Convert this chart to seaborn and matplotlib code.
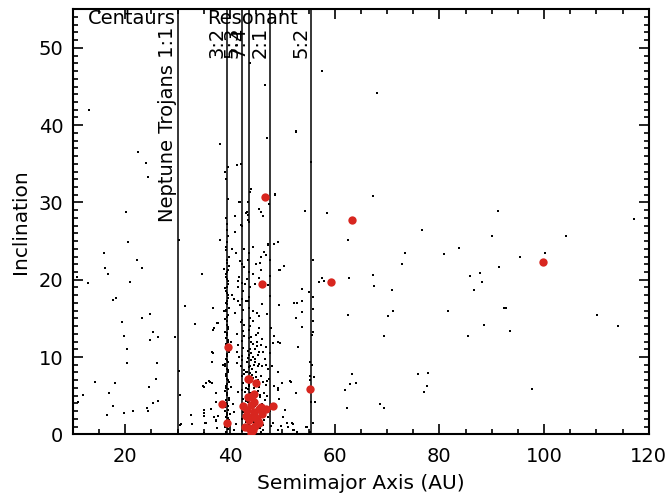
import matplotlib
matplotlib.use("Agg")
import matplotlib.pyplot as plt
import seaborn as sns
import pandas as pd
from matplotlib.ticker import MultipleLocator

# ---------------- data ----------------
# Centaurs region (a < 30 AU)
centaur_a = [13.1, 22.5, 23.9, 24.3, 20.2, 20.5, 16.0, 22.2, 16.2, 23.1, 16.7, 10.8, 12.8, 20.9,
             17.6, 18.3, 24.8, 23.2, 19.3, 25.3, 19.7, 24.7, 26.3, 29.5, 20.3, 20.3, 26.1, 25.8,
             14.3, 18.1, 24.6, 11.9, 16.9, 11.0, 26.3, 17.7, 25.3, 24.1, 21.4, 24.3, 19.8, 16.5]
centaur_i = [42.0, 36.5, 35.1, 33.3, 28.8, 24.9, 23.5, 22.5, 21.5, 21.5, 20.8, 20.4, 19.6, 19.7,
             17.4, 17.6, 15.6, 15.0, 14.5, 13.3, 12.7, 12.2, 12.6, 12.6, 11.1, 9.2, 9.2, 7.2,
             6.8, 6.7, 6.1, 5.1, 5.3, 4.2, 4.3, 3.7, 4.0, 3.4, 3.0, 3.0, 2.8, 2.5]

# Trojans and objects between 30 and 39 AU
inner_a = [30.3, 30.3, 30.4, 30.5, 30.6, 31.4, 32.5, 32.7, 34.6, 33.4, 36.7, 36.7, 37.7, 36.5,
           36.8, 36.5, 35.4, 35.9, 34.8, 36.5, 37.3, 35.0, 35.1, 36.4, 35.1, 37.3, 37.6, 37.0,
           35.2, 37.4, 37.8, 37.3, 36.8, 37.6, 37.0, 38.1, 38.1, 35.0, 35.4, 36.1, 35.0]
inner_i = [25.1, 8.2, 5.1, 1.2, 1.3, 16.6, 2.5, 1.3, 20.7, 14.3, 16.3, 13.5, 14.4, 10.6,
           10.5, 9.3, 6.6, 6.9, 6.2, 6.6, 5.3, 3.2, 2.7, 3.3, 0.2, 1.8, 0.8, 2.3,
           1.4, 1.7, 2.4, 4.2, 16.4, 14.4, 13.8, 25.1, 37.6, 2.4, 1.5, 6.8, 6.1]

# Plutinos (3:2 resonance, ~39.4 AU)
plutino_a = [39.3, 39.6, 39.1, 39.5, 39.8, 39.2, 39.4, 39.7, 39.0, 39.5, 39.3, 39.9, 39.4, 39.1,
             39.6, 39.3, 39.8, 39.5, 39.2, 39.6, 39.4, 39.0, 39.7, 39.3, 39.5, 39.8, 39.2, 39.6,
             39.4, 39.1, 39.7, 39.4, 39.5, 39.2, 39.8, 39.3, 39.6, 39.4, 39.1, 39.7, 39.5, 39.3,
             39.6, 39.4, 39.8, 39.2, 39.5, 39.4, 39.3, 39.6, 39.6, 39.0, 39.3, 40.0, 38.8, 40.2,
             38.7, 40.1, 38.9, 40.3, 38.9, 40.4, 40.5, 40.8, 41.1, 40.7,
             39.5, 39.2, 39.7, 39.4, 39.1, 39.6, 39.3, 39.8, 39.5, 39.2, 39.4, 39.7, 39.3, 39.6,
             39.0, 39.5, 39.4, 39.8, 39.2, 39.6, 39.3, 39.5, 39.7, 39.4, 39.1, 39.6, 39.3, 39.5,
             39.4, 39.7, 39.2, 39.5, 39.6, 39.3, 39.4, 39.8, 39.5, 39.2, 39.6, 39.4]
plutino_i = [0.3, 0.7, 1.0, 1.6, 1.9, 2.3, 2.8, 3.2, 3.5, 3.9, 4.4, 4.7, 5.1, 5.6,
             5.9, 6.3, 6.8, 7.2, 7.5, 8.1, 8.5, 8.9, 9.3, 9.8, 10.4, 10.9, 11.7, 12.2,
             12.8, 13.3, 13.9, 14.6, 15.2, 15.9, 16.4, 17.0, 17.6, 18.3, 18.9, 19.4, 20.1, 20.7,
             21.3, 22.2, 23.0, 23.8, 24.9, 26.5, 28.0, 30.5, 34.6, 33.9, 33.0, 2.6, 4.0, 6.1,
             9.0, 12.0, 16.0, 18.0, 21.4, 24.0, 3.9, 2.9, 1.3, 0.5,
             0.9, 1.4, 2.1, 2.5, 3.0, 3.6, 4.1, 4.5, 5.3, 6.0, 6.5, 7.0, 7.8, 8.3,
             9.1, 9.6, 10.1, 10.6, 11.3, 11.9, 12.5, 13.1, 13.6, 14.2, 14.9, 15.5, 16.1, 16.8,
             17.3, 18.0, 18.6, 19.1, 19.8, 20.4, 21.0, 21.8, 22.6, 24.2, 25.6, 27.2]

# Classical belt and 5:3 / 7:4 / 2:1 resonances (41-52 AU)
belt_a = [41.4, 41.6, 41.3, 41.8, 42.7, 44.3, 45.1, 45.5, 45.9, 46.4, 46.7, 46.9, 44.8, 45.3,
          48.5, 48.3, 41.3, 42.1, 44.3, 41.5, 45.6, 46.5, 48.4, 49.1, 50.0, 49.4, 50.5, 50.2,
          51.0, 52.0, 46.5, 47.2, 48.3, 49.1, 49.7, 46.4,
          42.0, 43.5, 45.5, 46.0, 46.4, 43.1, 43.4, 43.7, 40.9, 42.2, 41.0, 41.1, 42.6, 44.3,
          47.2, 48.5, 49.1, 46.5, 46.9, 45.9, 43.5, 42.0, 42.2, 44.9, 45.8, 42.7, 50.4, 49.4,
          45.9, 44.3, 41.8, 43.2, 41.6, 42.2, 41.5, 42.9, 44.8, 45.6, 47.2, 43.4, 43.1, 40.8,
          46.2, 45.1, 45.5, 47.0, 49.4, 52.3, 52.6, 42.0, 41.5, 41.0, 42.1, 42.7, 45.6,
          43.9, 46.6, 47.1, 52.6, 42.1, 41.3, 44.1, 43.9, 48.6, 55.5, 47.4, 45.6, 46.3, 54.3,
          43.2, 43.5, 42.1, 40.9, 41.8, 48.6,
          42.2, 42.5, 42.3, 42.4, 42.2, 42.5, 42.3, 42.4, 42.2, 42.6, 42.3, 42.4, 42.2, 43.7,
          43.6, 43.8, 43.7, 43.5, 43.9, 43.6, 43.8, 43.7, 43.5, 43.8, 43.6, 43.7, 43.9, 43.6,
          44.1, 44.5, 44.3, 44.8, 45.0, 44.4, 45.2, 44.7, 45.4, 44.2, 45.0, 45.8, 46.1, 45.7,
          46.3, 46.0, 47.0, 46.8, 47.3, 47.6, 47.8, 44.6, 45.3, 43.1, 42.9, 43.0, 44.0, 44.9,
          46.2, 47.6, 47.8, 47.7, 47.6, 47.7, 48.0,
          43.3, 43.6, 43.9, 44.2, 43.4, 43.8, 44.0, 43.5, 43.7, 44.3, 43.2, 43.9, 44.1, 43.6,
          44.5, 44.8, 45.1, 44.4, 44.9, 45.3, 44.6, 45.0, 44.2, 45.5, 44.7, 45.2, 44.0, 45.7,
          42.8, 43.1, 42.6, 43.0, 42.9, 43.3, 42.7, 43.2, 46.0, 46.4, 45.9, 46.6, 46.2, 47.1,
          42.4, 42.3, 42.5, 42.2, 42.4, 42.3, 43.7, 43.8, 43.6, 43.7, 44.4, 45.4, 46.8, 47.4,
          43.5, 44.1, 44.7, 45.6, 43.9, 44.3]
belt_i = [13.0, 11.5, 10.7, 10.0, 12.7, 11.7, 11.9, 10.6, 11.6, 10.7, 9.7, 9.0, 9.4, 8.8,
          12.7, 11.8, 9.2, 8.8, 10.0, 5.5, 6.1, 5.3, 6.3, 5.7, 6.6, 4.6, 3.1, 2.2,
          0.9, 0.6, 1.8, 2.2, 1.5, 0.5, 1.1, 0.5,
          30.0, 30.1, 29.1, 28.8, 28.3, 28.7, 28.4, 27.5, 28.2, 27.0, 26.2, 23.5, 24.0, 24.2,
          24.5, 24.6, 24.9, 23.6, 23.2, 22.9, 22.6, 22.4, 22.0, 22.0, 22.2, 21.7, 21.8, 21.2,
          21.2, 20.7, 20.3, 20.1, 19.8, 19.6, 19.1, 19.5, 19.5, 20.2, 19.3, 17.2, 17.3, 17.5,
          16.9, 15.7, 15.3, 15.6, 16.7, 17.0, 15.1, 16.7, 17.2, 15.7, 14.5, 14.2, 13.8,
          48.1, 45.2, 38.3, 39.2, 35.0, 34.8, 31.7, 31.3, 31.0, 35.2, 29.8, 29.1, 28.3, 28.9,
          28.8, 27.7, 27.1, 26.2, 30.1, 31.1,
          0.4, 1.1, 2.0, 2.9, 3.9, 4.6, 5.7, 6.6, 7.5, 8.3, 9.6, 11.2, 12.1, 0.3,
          1.4, 2.3, 3.5, 4.2, 5.4, 6.2, 7.9, 8.7, 9.9, 11.0, 12.4, 13.5, 15.0, 16.3,
          0.9, 1.6, 3.1, 3.6, 4.4, 5.0, 2.6, 6.3, 7.0, 7.7, 8.1, 0.8, 3.9, 4.8,
          6.8, 7.6, 4.9, 6.4, 8.4, 3.0, 1.1, 9.0, 10.2, 6.0, 3.0, 8.1, 10.5, 12.8,
          12.3, 10.5, 13.8, 17.9, 20.5, 22.6, 8.9,
          0.6, 1.2, 1.9, 2.7, 3.3, 4.0, 4.7, 5.8, 6.5, 7.3, 8.0, 8.9, 9.6, 10.3,
          0.4, 1.3, 2.4, 3.0, 4.1, 5.6, 6.0, 7.4, 8.5, 2.0, 9.7, 11.4, 12.0, 5.1,
          0.7, 1.6, 2.5, 4.3, 5.5, 6.9, 7.8, 9.3, 0.3, 1.2, 2.3, 4.4, 8.8, 6.9,
          13.4, 14.8, 16.1, 17.5, 18.6, 10.1, 17.8, 19.1, 21.0, 23.4, 14.6, 13.1, 11.3, 7.1,
          10.8, 12.6, 11.0, 9.1, 14.0, 15.9]

# Scattered / detached objects (a > 49 AU)
outer_a = [52.9, 51.6, 52.6, 55.3, 55.6, 55.3, 56.0, 55.2, 56.3, 55.4, 63.3, 62.9, 64.0, 61.9,
           62.3, 55.8, 52.0, 52.2, 52.8, 54.7, 55.2, 49.2, 49.6, 49.2, 51.4, 49.1, 50.8, 51.8,
           53.7, 52.8, 53.7, 50.3, 49.5, 47.3,
           62.5, 73.5, 80.9, 83.8, 95.4, 100.1, 55.9, 72.8, 91.4, 85.8, 87.8, 67.3, 62.7, 57.6,
           57.0, 57.9, 59.9, 88.1, 67.5, 86.6, 71.0, 53.8, 55.1, 55.8, 55.8, 62.5, 81.7, 92.3,
           92.7, 71.1, 70.2, 110.1, 55.8, 88.6, 93.5, 114.1, 53.7, 55.9, 55.6, 69.5, 85.4,
           75.9, 77.9, 77.7, 77.1, 97.6, 68.6, 69.4, 55.9, 54.6,
           57.6, 68.1, 67.4, 91.1, 58.6, 76.7, 90.0, 104.1, 117.1, 52.7]
outer_i = [11.3, 6.8, 5.4, 9.3, 9.0, 7.5, 7.4, 7.0, 4.2, 4.2, 7.8, 6.5, 6.6, 5.7,
           3.4, 1.5, 1.3, 0.6, 0.3, 0.9, 0.3, 11.9, 11.8, 8.0, 6.9, 6.0, 1.5, 1.4,
           17.3, 17.0, 15.8, 21.8, 21.2, 24.6,
           25.2, 23.5, 23.3, 24.1, 23.0, 23.4, 22.5, 22.1, 21.6, 20.5, 20.9, 20.6, 20.2, 20.2,
           19.7, 19.9, 19.7, 19.7, 19.2, 18.7, 18.7, 18.8, 18.4, 17.8, 16.2, 15.5, 16.0, 16.3,
           16.3, 16.0, 15.3, 15.4, 14.7, 14.1, 13.4, 14.0, 13.9, 13.2, 12.9, 12.7, 12.7,
           7.8, 7.9, 6.2, 5.5, 5.9, 3.9, 3.4, 1.5, 1.0,
           47.0, 44.2, 30.8, 28.9, 28.6, 26.5, 25.7, 25.6, 27.9, 39.1]

# Highlighted objects (red)
red_a = [46.7, 63.3, 59.3, 99.8, 46.2, 39.7, 55.2, 38.4, 39.4,
         43.4, 43.7, 45.0, 42.4, 43.5, 44.2, 44.6, 43.2, 44.0, 44.6, 45.5, 45.9, 46.9, 48.3,
         46.2, 43.0, 44.0, 44.9, 45.3, 42.9, 43.7, 44.3, 44.8, 45.6, 44.1, 44.6, 43.6]
red_i = [30.7, 27.7, 19.7, 22.3, 19.5, 11.3, 5.8, 3.9, 1.4,
         7.1, 7.2, 6.7, 3.7, 4.8, 4.9, 5.2, 3.2, 3.8, 4.2, 3.3, 3.5, 3.3, 3.6,
         2.6, 2.4, 2.2, 2.1, 1.7, 1.0, 0.8, 0.5, 1.1, 1.5, 0.2, 2.9, 1.8]

# Resonance boundaries and labels
res_a = [30.0, 39.4, 42.3, 43.7, 47.7, 55.4]
res_labels = ["Neptune Trojans 1:1", "3:2", "5:3", "7:4", "2:1", "5:2"]

# ---------------- plot ----------------
sns.set_style("white")
plt.rcParams['font.family'] = ['DejaVu Sans']
plt.rcParams.update({"text.color": "black", "axes.labelcolor": "black",
                     "xtick.color": "black", "ytick.color": "black"})

black = pd.DataFrame({"a": centaur_a + inner_a + plutino_a + belt_a + outer_a,
                      "i": centaur_i + inner_i + plutino_i + belt_i + outer_i})
red = pd.DataFrame({"a": red_a, "i": red_i})

fig = plt.figure(figsize=(6.66, 4.96), dpi=100)
ax = fig.add_axes([0.1095, 0.1244, 0.8647, 0.8569])

sns.scatterplot(data=black, x="a", y="i", ax=ax, color="black", marker="s",
                s=3.5, linewidth=0, zorder=3)
sns.scatterplot(data=red, x="a", y="i", ax=ax, color="#d8261f", marker="o",
                s=36, linewidth=0, zorder=4)

for xv, lab in zip(res_a, res_labels):
    ax.axvline(xv, color="black", lw=1.1, zorder=2)
    ax.text(xv - 0.1, 52.7, lab, rotation=90, ha="right", va="top",
            fontsize=14, color="black")

ax.text(12.8, 55.0, "Centaurs", ha="left", va="top", fontsize=14)
ax.text(35.6, 55.0, "Resonant", ha="left", va="top", fontsize=14)

ax.set_xlim(10, 120)
ax.set_ylim(0, 55)
ax.xaxis.set_major_locator(MultipleLocator(20))
ax.xaxis.set_minor_locator(MultipleLocator(5))
ax.yaxis.set_major_locator(MultipleLocator(10))
ax.yaxis.set_minor_locator(MultipleLocator(1))

ax.tick_params(which="both", direction="in", top=True, right=True,
               bottom=True, left=True, width=1.2, labelsize=14)
ax.tick_params(which="major", length=7)
ax.tick_params(which="minor", length=3.5)
ax.tick_params(axis="x", which="major", pad=9)
ax.tick_params(axis="y", which="major", pad=7)

for sp in ax.spines.values():
    sp.set_linewidth(1.5)
    sp.set_color("black")

ax.set_xlabel("Semimajor Axis (AU)", fontsize=14.5, labelpad=6)
ax.set_ylabel("Inclination", fontsize=14.5, labelpad=6)

fig.savefig("out.png", dpi=100)
